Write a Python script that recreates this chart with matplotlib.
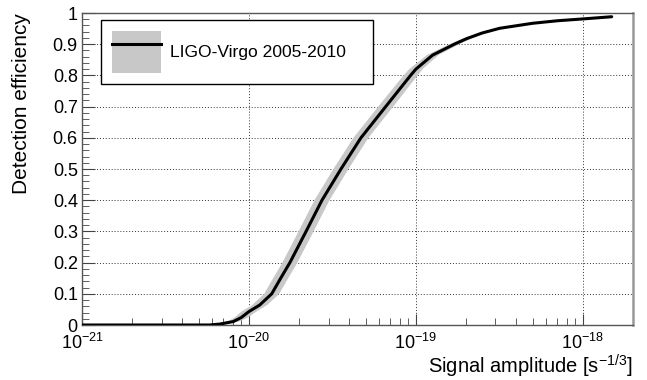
import numpy as np
import matplotlib
matplotlib.use('Agg')
import matplotlib.pyplot as plt
from matplotlib.patches import Patch
from matplotlib.lines import Line2D
from matplotlib.ticker import LogLocator, MultipleLocator, NullFormatter

plt.rcParams['font.family'] = ['Liberation Sans', 'DejaVu Sans']
plt.rcParams['mathtext.fontset'] = 'custom'
plt.rcParams['mathtext.rm'] = 'Liberation Sans'
plt.rcParams['mathtext.it'] = 'Liberation Sans:italic'

# efficiency curve
amplitude = [1e-21, 5.8e-21, 6.7e-21, 8.06e-21, 9.0e-21, 1.0e-20, 1.16e-20,
             1.37e-20, 1.55e-20, 1.76e-20, 2.2e-20, 2.74e-20, 3.56e-20, 4.69e-20,
             6.6e-20, 9.3e-20, 1.0e-19, 1.26e-19, 1.7e-19, 2.02e-19, 2.5e-19,
             3.18e-19, 5.0e-19, 7.0e-19, 1.0e-18, 1.49e-18]
efficiency = [0.0, 0.0, 0.003, 0.011, 0.024, 0.043, 0.064,
              0.1, 0.15, 0.2, 0.3, 0.4, 0.5, 0.6,
              0.7, 0.8, 0.82, 0.865, 0.9, 0.918, 0.936,
              0.951, 0.967, 0.975, 0.981, 0.988]
# half width of the grey band, in decades of amplitude
band_dex = [0.0, 0.0, 0.02, 0.035, 0.04, 0.045, 0.045,
            0.045, 0.045, 0.045, 0.045, 0.045, 0.045, 0.045,
            0.045, 0.042, 0.04, 0.035, 0.03, 0.025, 0.02,
            0.012, 0.005, 0.0, 0.0, 0.0]

legend_label = 'LIGO-Virgo 2005-2010'

amp = np.array(amplitude)
eff = np.array(efficiency)
f = 10 ** np.array(band_dex)

fig = plt.figure(figsize=(6.47, 3.8), dpi=100)
ax = fig.add_axes([82 / 647, 55 / 380, 551 / 647, 312 / 380])

band_x = np.concatenate([amp / f, (amp * f)[::-1]])
band_y = np.concatenate([eff, eff[::-1]])
ax.fill(band_x, band_y, color='#c8c8c8', lw=0, zorder=2)
ax.plot(amp, eff, color='black', lw=2.2, zorder=3,
        solid_joinstyle='round', solid_capstyle='round')

ax.set_xscale('log')
ax.set_xlim(1e-21, 2e-18)
ax.set_ylim(0, 1)

ax.xaxis.set_major_locator(LogLocator(base=10, numticks=10))
ax.xaxis.set_minor_locator(LogLocator(base=10, subs=np.arange(2, 10), numticks=50))
ax.xaxis.set_minor_formatter(NullFormatter())
ax.yaxis.set_minor_locator(MultipleLocator(0.02))
ax.set_yticks(np.arange(0, 1.01, 0.1))
ax.set_yticklabels(['0', '0.1', '0.2', '0.3', '0.4', '0.5', '0.6', '0.7', '0.8', '0.9', '1'])

ax.tick_params(which='both', direction='in', top=False, right=False,
               color='#444444', labelsize=13)
ax.tick_params(axis='x', which='major', length=8, pad=6)
ax.tick_params(axis='x', which='minor', length=5)
ax.tick_params(axis='y', which='major', length=9, pad=3)
ax.tick_params(axis='y', which='minor', length=5)

ax.grid(True, which='major', color='#333333', ls=(0, (1, 2)), lw=0.7, zorder=1)
for s in ax.spines.values():
    s.set_color('#555555')
    s.set_linewidth(1.0)
ax.spines['right'].set_color('#999999')
ax.spines['right'].set_linewidth(1.8)

ax.set_ylabel('Detection efficiency', fontsize=15, loc='top')
ax.yaxis.set_label_coords(-0.092, 1.0)
ax.set_xlabel('Signal amplitude [s$^{-1/3}$]', fontsize=14.5, loc='right')
ax.xaxis.set_label_coords(1.0, -0.09)

handle = (Patch(facecolor='#c8c8c8', edgecolor='none'), Line2D([], [], color='black', lw=2.2))
leg = ax.legend([handle], [legend_label], loc='upper left',
                bbox_to_anchor=(0.0345, 0.721, 0.4935, 0.257), mode='expand',
                borderaxespad=0, fontsize=12.6, handlelength=2.75, handleheight=3.3,
                borderpad=0.65, handletextpad=0.55, fancybox=False, framealpha=1)
leg.get_frame().set_edgecolor('black')
leg.get_frame().set_linewidth(1.0)

fig.savefig('out.png', dpi=100)
